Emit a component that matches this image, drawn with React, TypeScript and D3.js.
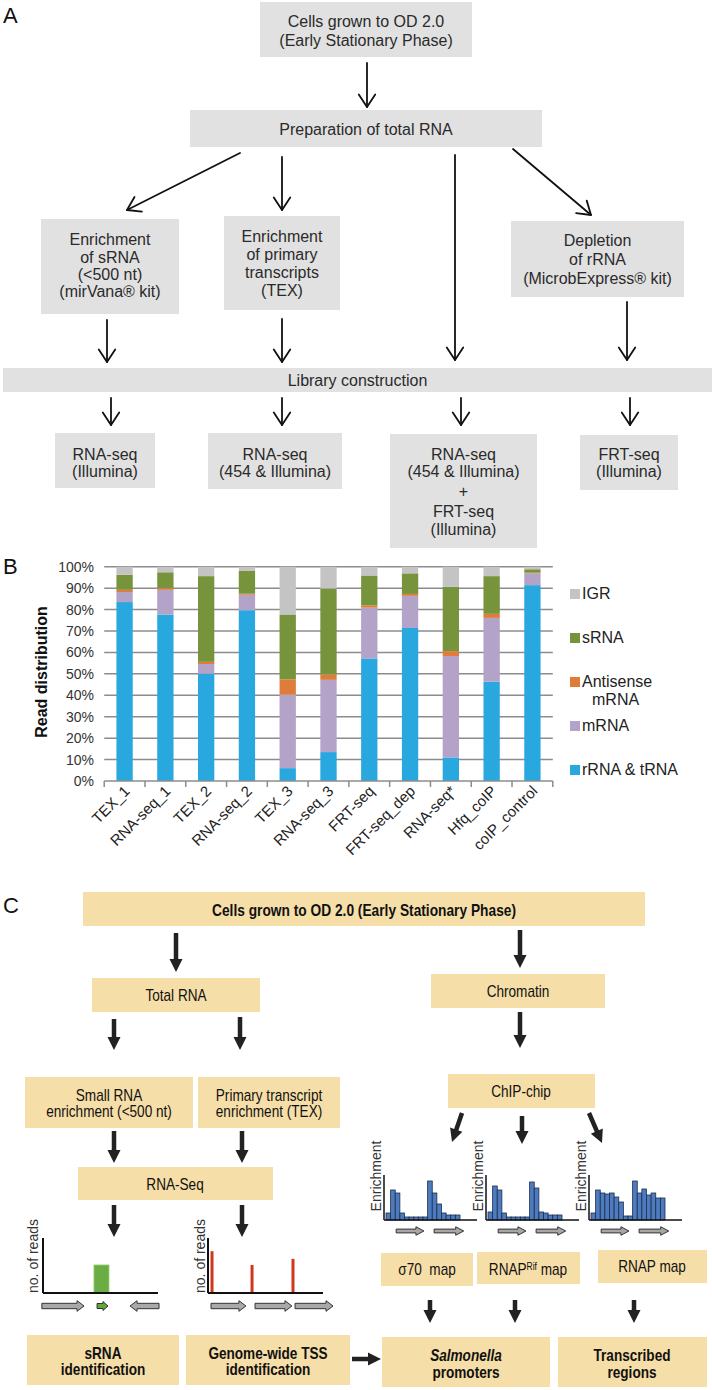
import React from "react";
import * as d3 from "d3";

// ---------------- Panel B data ----------------
const categories = ["TEX_1", "RNA-seq_1", "TEX_2", "RNA-seq_2", "TEX_3", "RNA-seq_3", "FRT-seq", "FRT-seq_dep", "RNA-seq*", "Hfq_coIP", "coIP_control"];
const rRNAtRNA = [83.5, 77.7, 50.0, 79.7, 6.0, 13.5, 57.2, 71.4, 11.0, 46.3, 91.4];
const mRNA = [4.7, 11.5, 4.6, 7.2, 34.3, 33.7, 23.7, 15.0, 47.3, 29.8, 5.5];
const antisenseMRNA = [1.0, 0.8, 1.0, 0.5, 7.1, 2.5, 1.0, 0.9, 2.3, 1.9, 0.3];
const sRNA = [7.0, 7.4, 40.0, 10.6, 30.3, 40.1, 14.0, 9.6, 30.0, 17.6, 1.6];
const IGR = [3.8, 2.6, 4.4, 2.0, 22.3, 10.2, 4.1, 3.1, 9.4, 4.4, 1.2];
const seriesNames = ["rRNA & tRNA", "mRNA", "Antisense mRNA", "sRNA", "IGR"];
const seriesColors = ["#29a8e0", "#b3a3c9", "#e07c3a", "#77933c", "#c4c4c4"];
const yTickValues = [0, 10, 20, 30, 40, 50, 60, 70, 80, 90, 100];
const yTickLabels = ["0%", "10%", "20%", "30%", "40%", "50%", "60%", "70%", "80%", "90%", "100%"];
const legendOrder = ["IGR", "sRNA", "Antisense mRNA", "mRNA", "rRNA & tRNA"];
const legendLines: Record<string, string[]> = {
  IGR: ["IGR"],
  sRNA: ["sRNA"],
  "Antisense mRNA": ["Antisense", "mRNA"],
  mRNA: ["mRNA"],
  "rRNA & tRNA": ["rRNA & tRNA"],
};

// ---------------- Panel C mini charts ----------------
const sigma70Profile = [7, 30, 27, 7, 3, 3, 3, 3, 3, 39, 27, 16, 7, 5, 5, 5];
const rnapRifProfile = [8, 34, 30, 7, 3, 3, 3, 3, 3, 38, 32, 8, 7, 5, 5, 5];
const rnapProfile = [7, 30, 27, 26, 27, 23, 18, 4, 4, 39, 27, 31, 25, 27, 22, 22];
const chipGenes = [[2.2, 8.2], [10.4, 16.8]];

const sRNAReads = [{ start: 44.3, end: 57.4, value: 51 }];
const sRNAGenes = [
  { start: -1, end: 35.7, dir: 1, small: false },
  { start: 47, end: 56.5, dir: 1, small: true },
  { start: 75.7, end: 100.9, dir: -1, small: false },
];
const tssReads = [{ pos: 3.5, value: 76 }, { pos: 38.3, value: 51 }, { pos: 73.9, value: 62 }];
const tssGenes = [{ start: 2.6, end: 33 }, { start: 40.9, end: 73 }, { start: 75.7, end: 108.7 }];

const FONT = "'Liberation Sans', Arial, Helvetica, sans-serif";
const GRAY_BOX = "#e1e1e1";
const TAN_BOX = "#f6dea8";

type Pt = [number, number];

function VArrow({ x1, y1, x2, y2 }: { x1: number; y1: number; x2: number; y2: number }) {
  const a = Math.atan2(y2 - y1, x2 - x1);
  const L = 15, s = 0.58;
  const p1: Pt = [x2 - L * Math.cos(a - s), y2 - L * Math.sin(a - s)];
  const p2: Pt = [x2 - L * Math.cos(a + s), y2 - L * Math.sin(a + s)];
  return (
    <g stroke="#111" strokeWidth={1.8} fill="none" strokeLinecap="round" strokeLinejoin="round">
      <line x1={x1} y1={y1} x2={x2} y2={y2} />
      <polyline points={`${p1[0]},${p1[1]} ${x2},${y2} ${p2[0]},${p2[1]}`} />
    </g>
  );
}

function blockArrowPoints(x1: number, y1: number, x2: number, y2: number, shaft: number, headW: number, headL: number) {
  const dx = x2 - x1, dy = y2 - y1, len = Math.hypot(dx, dy);
  const ux = dx / len, uy = dy / len, px = -uy, py = ux;
  const bx = x2 - ux * headL, by = y2 - uy * headL;
  const pts: Pt[] = [
    [x1 + (px * shaft) / 2, y1 + (py * shaft) / 2],
    [bx + (px * shaft) / 2, by + (py * shaft) / 2],
    [bx + (px * headW) / 2, by + (py * headW) / 2],
    [x2, y2],
    [bx - (px * headW) / 2, by - (py * headW) / 2],
    [bx - (px * shaft) / 2, by - (py * shaft) / 2],
    [x1 - (px * shaft) / 2, y1 - (py * shaft) / 2],
  ];
  return pts.map((p) => p.join(",")).join(" ");
}

function BlockArrow({ x1, y1, x2, y2 }: { x1: number; y1: number; x2: number; y2: number }) {
  return <polygon points={blockArrowPoints(x1, y1, x2, y2, 4.5, 13, 13)} fill="#222" />;
}

function GeneArrow({ x1, x2, y, fill = "#a9a9a9", shaft = 5.4, headW = 10.6, headL = 7 }: any) {
  return (
    <polygon
      points={blockArrowPoints(x1, y, x2, y, shaft, headW, headL)}
      fill={fill}
      stroke="#333"
      strokeWidth={1}
      strokeLinejoin="miter"
    />
  );
}

function Box({ x, y, w, h, fill }: any) {
  return <rect x={x} y={y} width={w} height={h} fill={fill} />;
}

// condensed text for panel C
function NText({ x, y, size = 16, weight = "normal", sx = 0.85, children, anchor = "middle" }: any) {
  return (
    <g transform={`translate(${x},${y}) scale(${sx},1)`}>
      <text textAnchor={anchor} fontSize={size} fontWeight={weight} fill="#111" fontFamily={FONT} style={{ whiteSpace: "pre" }}>
        {children}
      </text>
    </g>
  );
}

function AText({ x, y, children }: any) {
  return (
    <text x={x} y={y} textAnchor="middle" fontSize={16} fill="#2a2a2a" fontFamily={FONT}>
      {children}
    </text>
  );
}

function PanelA() {
  const boxes = [
    { x: 260, y: 2, w: 212, h: 55, lines: ["Cells grown to OD 2.0", "(Early Stationary Phase)"], base: [27, 46] },
    { x: 190, y: 110, w: 352, h: 37, lines: ["Preparation of total RNA"], base: [135] },
    { x: 41, y: 219, w: 138, h: 95, lines: ["Enrichment", "of sRNA", "(<500 nt)", "(mirVana® kit)"], base: [245, 263, 280, 297] },
    { x: 224, y: 216, w: 116, h: 94, lines: ["Enrichment", "of primary", "transcripts", "(TEX)"], base: [242, 260, 278, 296] },
    { x: 511, y: 221, w: 173, h: 76, lines: ["Depletion", "of rRNA", "(MicrobExpress® kit)"], base: [246, 265, 284] },
    { x: 3, y: 368, w: 709, h: 24, lines: ["Library construction"], base: [386] },
    { x: 55, y: 433, w: 100, h: 55, lines: ["RNA-seq", "(Illumina)"], base: [460, 477] },
    { x: 208, y: 433, w: 134, h: 56, lines: ["RNA-seq", "(454 & Illumina)"], base: [460, 477] },
    { x: 390, y: 434, w: 147, h: 114, lines: ["RNA-seq", "(454 & Illumina)", "+", "FRT-seq", "(Illumina)"], base: [460, 477, 497, 517, 535] },
    { x: 580, y: 435, w: 98, h: 55, lines: ["FRT-seq", "(Illumina)"], base: [460, 477] },
  ];
  const arrows = [
    [367, 63, 367, 107],
    [240, 153, 127, 210],
    [282, 157, 282, 210],
    [455, 155, 455, 360],
    [513, 149, 591, 215],
    [107, 320, 107, 362],
    [282, 319, 282, 362],
    [627, 302, 627, 360],
    [111, 398, 111, 425],
    [282, 398, 282, 425],
    [461, 398, 461, 425],
    [630, 398, 630, 425],
  ];
  return (
    <g>
      <text x={3} y={23} fontSize={22} fontFamily={FONT} fill="#111">A</text>
      {boxes.map((b, i) => (
        <g key={i}>
          <Box x={b.x} y={b.y} w={b.w} h={b.h} fill={GRAY_BOX} />
          {b.lines.map((l, j) => (
            <AText key={j} x={b.x + b.w / 2} y={b.base[j]}>{l}</AText>
          ))}
        </g>
      ))}
      {arrows.map((a, i) => (
        <VArrow key={i} x1={a[0]} y1={a[1]} x2={a[2]} y2={a[3]} />
      ))}
    </g>
  );
}

function PanelB() {
  const x = d3.scaleBand<string>().domain(categories).range([104.2, 552.8]).paddingInner(0.6).paddingOuter(0.3);
  const y = d3.scaleLinear().domain([0, 100]).range([781, 566.7]);
  const rows = categories.map((c, i) => ({
    cat: c,
    "rRNA & tRNA": rRNAtRNA[i],
    mRNA: mRNA[i],
    "Antisense mRNA": antisenseMRNA[i],
    sRNA: sRNA[i],
    IGR: IGR[i],
  }));
  const stack = d3.stack<any>().keys(seriesNames)(rows);
  const color = d3.scaleOrdinal<string, string>().domain(seriesNames).range(seriesColors);
  const step = x.step();
  const x0 = 104.2;
  return (
    <g fontFamily={FONT}>
      <text x={3} y={574} fontSize={22} fill="#111">B</text>
      {yTickValues.map((v, i) => (
        <g key={v}>
          {v > 0 && <line x1={x0} x2={552.8} y1={y(v)} y2={y(v)} stroke="#8c8c8c" strokeWidth={1.5} />}
          <text x={94} y={y(v) + 5} textAnchor="end" fontSize={14} fill="#333">{yTickLabels[i]}</text>
        </g>
      ))}
      {stack.map((s) => (
        <g key={s.key} fill={color(s.key)}>
          {s.map((d: any, i: number) => (
            <rect key={i} x={x(categories[i])} width={x.bandwidth()} y={y(d[1])} height={y(d[0]) - y(d[1])} />
          ))}
        </g>
      ))}
      <line x1={x0} x2={552.8} y1={y(0)} y2={y(0)} stroke="#8c8c8c" strokeWidth={1.5} />
      {d3.range(categories.length + 1).map((i) => (
        <line key={i} x1={x0 + i * step} x2={x0 + i * step} y1={y(0)} y2={y(0) + 6} stroke="#8c8c8c" strokeWidth={1.5} />
      ))}
      {categories.map((c) => {
        const cx = (x(c) as number) + x.bandwidth() / 2;
        return (
          <text key={c} transform={`translate(${cx + 6},${792}) rotate(-45)`} textAnchor="end" fontSize={15} fill="#222">
            {c}
          </text>
        );
      })}
      <text transform={`translate(47,672) rotate(-90)`} textAnchor="middle" fontSize={16} fontWeight="bold" fill="#111">
        Read distribution
      </text>
      {legendOrder.map((k, i) => {
        const base = 599 + 44 * i;
        return (
          <g key={k}>
            <rect x={570} y={base - 10} width={10} height={10} fill={color(k)} />
            {legendLines[k].map((l, j) => (
              <text key={j} x={j === 0 ? 582 : 592} y={base + j * 18} fontSize={16} fill="#222">{l}</text>
            ))}
          </g>
        );
      })}
    </g>
  );
}

function ChipProfile({ x0, profile, labelX }: { x0: number; profile: number[]; labelX: number }) {
  const xs = d3.scaleLinear().domain([0, profile.length]).range([x0 + 2, x0 + 2 + 74]);
  const ys = d3.scaleLinear().domain([0, 45]).range([1220, 1175]);
  return (
    <g>
      <text transform={`translate(${labelX},1176) rotate(-90)`} textAnchor="middle" fontSize={14} fill="#333" fontFamily={FONT}>
        Enrichment
      </text>
      {profile.map((v, i) => (
        <rect key={i} x={xs(i)} y={ys(v)} width={xs(i + 1) - xs(i)} height={ys(0) - ys(v)} fill="#4d7bbd" stroke="#1b2d50" strokeWidth={0.8} />
      ))}
      <line x1={x0} x2={x0} y1={ys(45)} y2={ys(0)} stroke="#111" strokeWidth={1.5} />
      <line x1={x0} x2={x0 + 93} y1={ys(0)} y2={ys(0)} stroke="#111" strokeWidth={1.5} />
      {chipGenes.map((g, i) => (
        <GeneArrow key={i} x1={xs(g[0])} x2={xs(g[1])} y={1231} shaft={3.8} headW={8.5} headL={8} fill="#a6a6a6" />
      ))}
    </g>
  );
}

function ReadsChart({ x0, labelX, children }: any) {
  return (
    <g>
      <text transform={`translate(${labelX},1256) rotate(-90)`} textAnchor="middle" fontSize={14} fill="#333" fontFamily={FONT}>
        no. of reads
      </text>
      {children}
      <line x1={x0} x2={x0} y1={1238} y2={1293} stroke="#111" strokeWidth={2} />
      <line x1={x0} x2={x0 + 115} y1={1293} y2={1293} stroke="#111" strokeWidth={2} />
    </g>
  );
}

function PanelC() {
  const xa = d3.scaleLinear().domain([0, 100]).range([43, 158]);
  const xb = d3.scaleLinear().domain([0, 100]).range([208, 323]);
  const yr = d3.scaleLinear().domain([0, 100]).range([1293, 1238]);
  const tan = (x: number, y: number, w: number, h: number) => <Box x={x} y={y} w={w} h={h} fill={TAN_BOX} />;
  return (
    <g fontFamily={FONT}>
      <text x={3} y={913} fontSize={22} fill="#111">C</text>
      {tan(83, 892, 562, 34)}
      <NText x={364} y={916} weight="bold" sx={0.86}>Cells grown to OD 2.0 (Early Stationary Phase)</NText>
      <BlockArrow x1={176} y1={933} x2={176} y2={972} />
      <BlockArrow x1={520} y1={930} x2={520} y2={968} />
      {tan(92, 978, 168, 34)}
      <NText x={176} y={1001}>Total RNA</NText>
      {tan(431, 974, 174, 34)}
      <NText x={518} y={997}>Chromatin</NText>
      <BlockArrow x1={114} y1={1019} x2={114} y2={1050} />
      <BlockArrow x1={240} y1={1017} x2={240} y2={1050} />
      <BlockArrow x1={520} y1={1012} x2={520} y2={1048} />
      {tan(25, 1077, 168, 51)}
      <NText x={109} y={1101}>Small RNA</NText>
      <NText x={109} y={1117}>enrichment (&lt;500 nt)</NText>
      {tan(198, 1077, 142, 51)}
      <NText x={269} y={1101}>Primary transcript</NText>
      <NText x={269} y={1117}>enrichment (TEX)</NText>
      {tan(448, 1074, 147, 34)}
      <NText x={521} y={1097}>ChIP-chip</NText>
      <BlockArrow x1={114} y1={1131} x2={114} y2={1163} />
      <BlockArrow x1={242} y1={1131} x2={242} y2={1163} />
      {tan(78, 1167, 195, 33)}
      <NText x={175} y={1190}>RNA-Seq</NText>
      <BlockArrow x1={462} y1={1113} x2={452} y2={1142} />
      <BlockArrow x1={522} y1={1116} x2={522} y2={1144} />
      <BlockArrow x1={589} y1={1113} x2={602} y2={1143} />

      <ChipProfile x0={384} profile={sigma70Profile} labelX={381} />
      <ChipProfile x0={486} profile={rnapRifProfile} labelX={483} />
      <ChipProfile x0={589} profile={rnapProfile} labelX={586} />

      <BlockArrow x1={114} y1={1205} x2={114} y2={1237} />
      <BlockArrow x1={242} y1={1205} x2={242} y2={1237} />

      <ReadsChart x0={43} labelX={38}>
        {sRNAReads.map((r, i) => (
          <rect key={i} x={xa(r.start)} y={yr(r.value)} width={xa(r.end) - xa(r.start)} height={yr(0) - yr(r.value)} fill="#6aae43" stroke="#9fd07f" strokeWidth={0.8} />
        ))}
      </ReadsChart>
      {sRNAGenes.map((g, i) => {
        const a = g.dir > 0 ? xa(g.start) : xa(g.end);
        const b = g.dir > 0 ? xa(g.end) : xa(g.start);
        return g.small ? (
          <GeneArrow key={i} x1={a} x2={b} y={1306} shaft={5} headW={9} headL={5} fill="#5fa83a" />
        ) : (
          <GeneArrow key={i} x1={a} x2={b} y={1306} />
        );
      })}
      <ReadsChart x0={208} labelX={205}>
        {tssReads.map((r, i) => (
          <line key={i} x1={xb(r.pos)} x2={xb(r.pos)} y1={yr(r.value)} y2={yr(0)} stroke="#d0381d" strokeWidth={3} />
        ))}
      </ReadsChart>
      {tssGenes.map((g, i) => (
        <GeneArrow key={i} x1={xb(g.start)} x2={xb(g.end)} y={1306} />
      ))}

      {tan(381, 1253, 92, 33)}
      <NText x={427} y={1275}>{"σ70\u00a0\u00a0map"}</NText>
      {tan(477, 1252, 103, 32)}
      <NText x={528} y={1275}>
        RNAP<tspan fontSize={10} dy={-5}>Rif</tspan>
        <tspan dy={5}>{"\u00a0map"}</tspan>
      </NText>
      {tan(598, 1250, 109, 33)}
      <NText x={652} y={1272}>RNAP map</NText>

      <BlockArrow x1={430} y1={1300} x2={430} y2={1323} />
      <BlockArrow x1={515} y1={1300} x2={515} y2={1323} />
      <BlockArrow x1={634} y1={1300} x2={634} y2={1323} />

      {tan(27, 1335, 152, 50)}
      <NText x={103} y={1359} weight="bold">sRNA</NText>
      <NText x={103} y={1375} weight="bold">identification</NText>
      {tan(186, 1335, 164, 50)}
      <NText x={268} y={1359} weight="bold">Genome-wide TSS</NText>
      <NText x={268} y={1375} weight="bold">identification</NText>
      <BlockArrow x1={352} y1={1359} x2={381} y2={1359} />
      {tan(382, 1337, 168, 50)}
      <NText x={466} y={1361} weight="bold">
        <tspan fontStyle="italic">Salmonella</tspan>
      </NText>
      <NText x={466} y={1378} weight="bold">promoters</NText>
      {tan(558, 1337, 149, 50)}
      <NText x={632} y={1361} weight="bold">Transcribed</NText>
      <NText x={632} y={1378} weight="bold">regions</NText>
    </g>
  );
}

export default function App() {
  return (
    <svg
      width={712}
      height={1390}
      viewBox="0 0 712 1390"
      style={{ position: "absolute", left: 0, top: 0, background: "#fff" }}
    >
      <rect x={0} y={0} width={712} height={1390} fill="#fff" />
      <PanelA />
      <PanelB />
      <PanelC />
    </svg>
  );
}
